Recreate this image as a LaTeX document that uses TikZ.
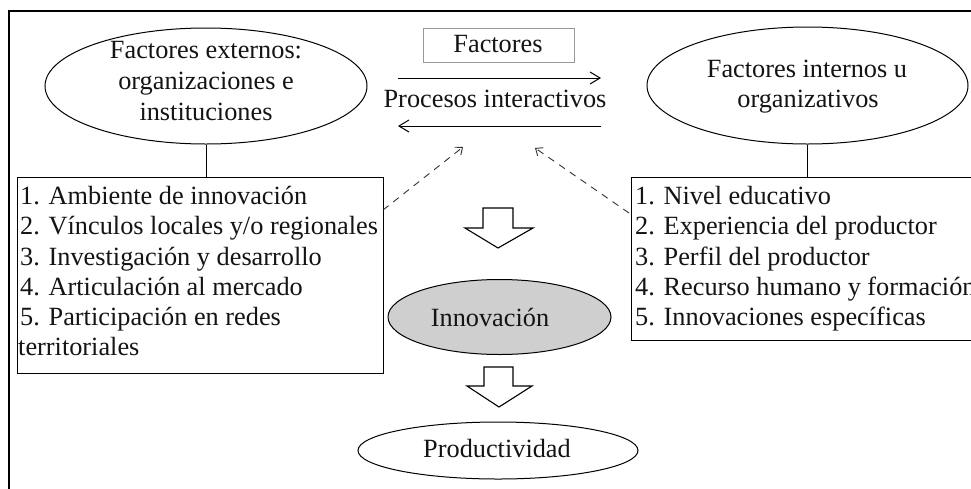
\documentclass[tikz,border=0pt]{standalone}
\usepackage{fontspec}
\setmainfont{Liberation Serif}
\usetikzlibrary{shapes.geometric,arrows.meta}
\begin{document}
\begin{tikzpicture}[x=1pt,y=-1pt,
  every node/.style={font=\fontsize{26.3}{30}\selectfont, inner sep=0pt, text=black!92},
  ell/.style={draw, ellipse, line width=1pt},
  boxa/.style={draw, line width=1.1pt, rectangle, anchor=north west},
  txt/.style={anchor=base},
  ltxt/.style={anchor=base west},
  conn/.style={line width=1pt},
  dconn/.style={line width=0.9pt, dash pattern=on 7pt off 6pt, draw=black!80, -{Straight Barb[length=6pt,width=10pt]}},
  barb/.style={line width=1pt, -{Straight Barb[length=10pt,width=12pt]}},
  blockarrow/.style={draw, line width=1.1pt, fill=white, line join=miter}
]
\useasboundingbox (0,0) rectangle (971,488);
\fill[white] (0,0) rectangle (971,488);
% outer frame (continues past the right and bottom edges)
\draw[line width=2.6pt] (9,520) -- (9,11) -- (1000,11);

% ellipses
\node[ell, minimum width=322, minimum height=116] (extE) at (206,86) {};
\node[txt] (extT1) at (206,58) {Factores externos:};
\node[txt] (extT2) at (206,89) {organizaciones e};
\node[txt] (extT3) at (206,120) {instituciones};

\node[ell, minimum width=321, minimum height=117] (intE) at (807.5,85.5) {};
\node[txt] (intT1) at (807,77) {Factores internos u};
\node[txt] (intT2) at (808,107) {organizativos};

% lists
\node[boxa, minimum width=366, minimum height=196] (lbox) at (17,177) {};
\node[ltxt] (l1) at (20,204) {1. Ambiente de innovación};
\node[ltxt] (l2) at (20,234) {2. Vínculos locales y/o regionales};
\node[ltxt] (l3) at (20,265) {3. Investigación y desarrollo};
\node[ltxt] (l4) at (20,295) {4. Articulación al mercado};
\node[ltxt] (l5) at (20,325) {5. Participación en redes};
\node[ltxt] (l6) at (18,355) {territoriales};

\node[boxa, minimum width=420, minimum height=163] (rbox) at (631,177) {};
\node[ltxt] (r1) at (635,204) {1. Nivel educativo};
\node[ltxt] (r2) at (635,234) {2. Experiencia del productor};
\node[ltxt] (r3) at (635,265) {3. Perfil del productor};
\node[ltxt] (r4) at (635,295) {4. Recurso humano y formación};
\node[ltxt] (r5) at (635,325) {5. Innovaciones específicas};

\draw[conn] (extE.south) -- (extE.south |- lbox.north);
\draw[conn] (intE.south) -- (intE.south |- rbox.north);

% Factores box and interactive processes
\node[draw=black!40, line width=1pt, minimum width=151, minimum height=34] (fbox) at (498.5,45) {};
\node[txt] (fT) at (498,52) {Factores};
\node[txt] (pT) at (495,107) {Procesos interactivos};
\coordinate (a1s) at (398,78);
\coordinate (a1e) at (601,78);
\coordinate (a2s) at (601,126);
\coordinate (a2e) at (398,126);
\draw[barb] (a1s) -- (a1e);
\draw[barb] (a2s) -- (a2e);

% dashed feedback arrows
\coordinate (d1s) at (383,210);
\coordinate (d1e) at (463,147);
\coordinate (d2s) at (629,213);
\coordinate (d2e) at (535,148);
\draw[dconn] (d1s) -- (d1e);
\draw[dconn] (d2s) -- (d2e);

% block arrows
\draw[blockarrow] (483,208) -- (513,208) -- (513,228) -- (533,228) -- (498,248) -- (465,228) -- (483,228) -- cycle;

\node[ell, fill=black!19, minimum width=223, minimum height=75] (inno) at (499.5,317) {};
\node[txt] (innoT) at (490,326.5) {Innovación};

\draw[blockarrow] (484,367) -- (513,367) -- (513,386) -- (532,386) -- (499,407) -- (467,386) -- (484,386) -- cycle;

\node[ell, minimum width=280, minimum height=57] (prod) at (498,450.5) {};
\node[txt] (prodT) at (497,457) {Productividad};
\end{tikzpicture}
\end{document}
